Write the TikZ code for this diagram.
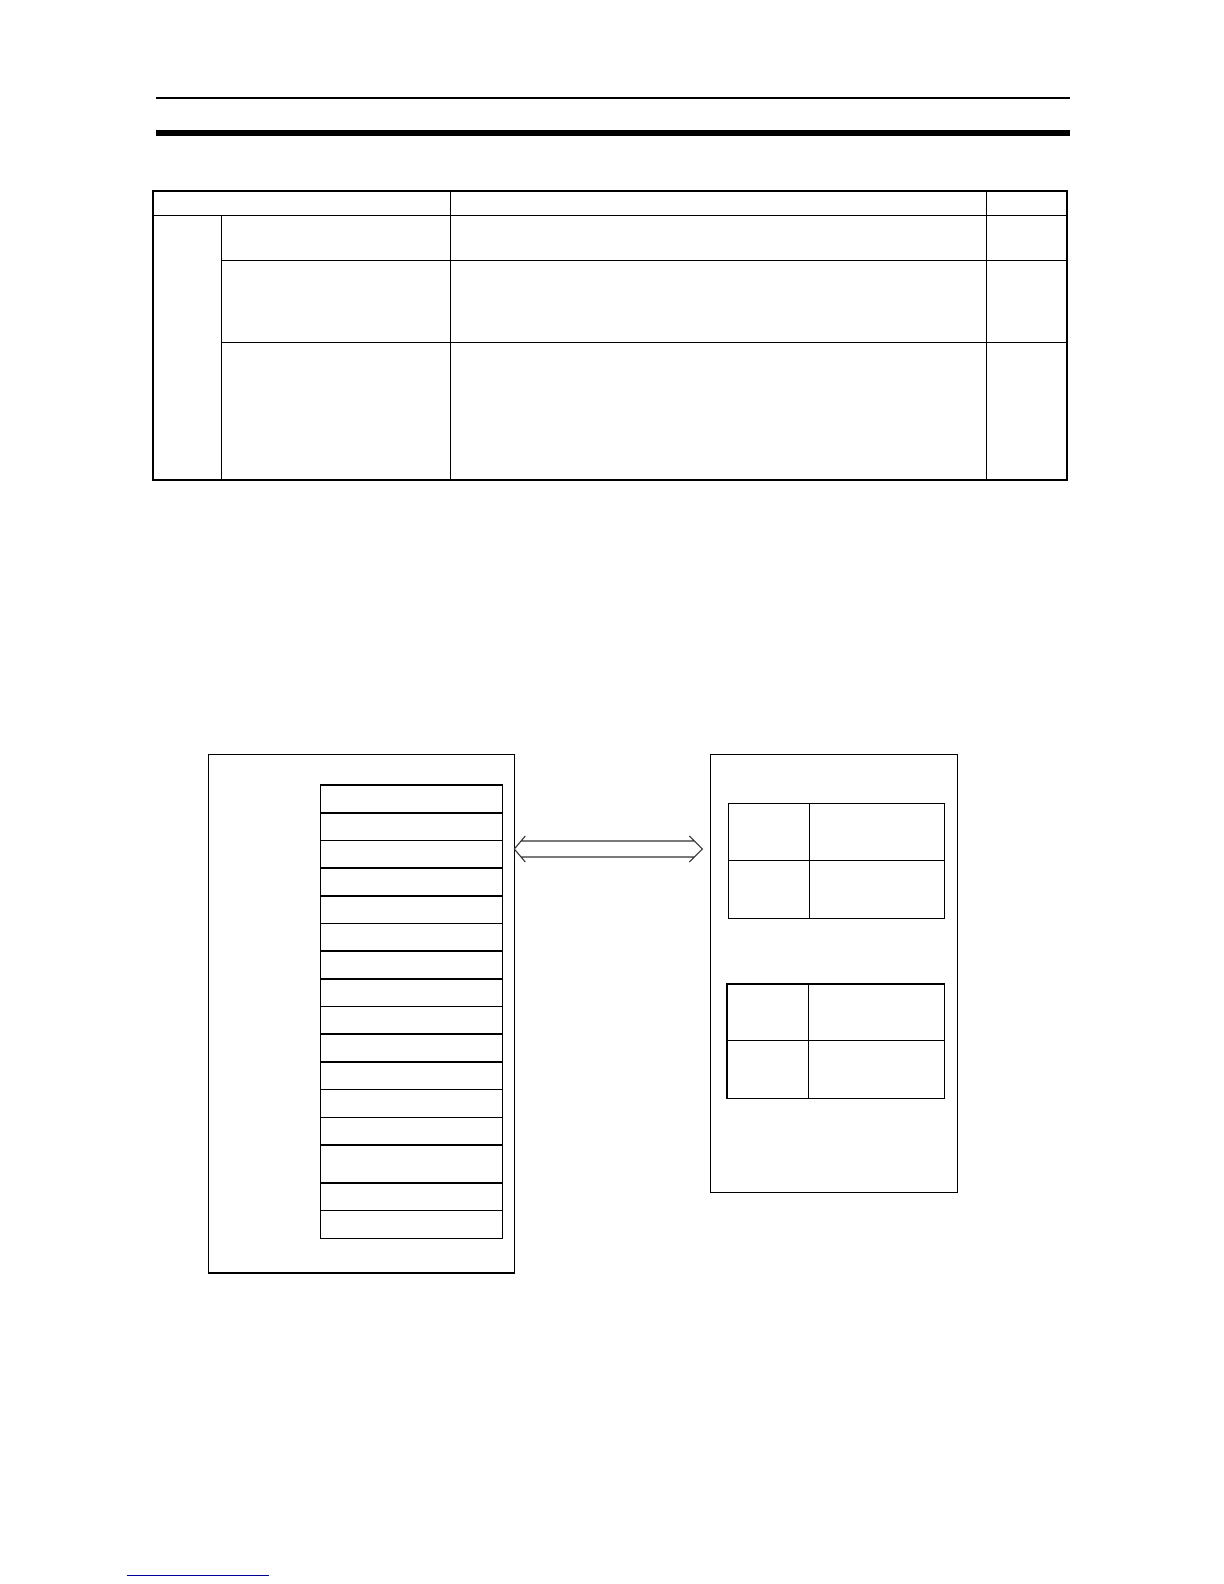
\documentclass[tikz,border=0pt]{standalone}
\usepackage{tikz}
\usetikzlibrary{positioning}

\begin{document}
\begin{tikzpicture}[x=0.5pt,y=-0.5pt,line join=miter,
  panel/.style={draw, line width=0.75pt, inner sep=0pt, outer sep=0pt},
  slot/.style={draw, line width=0.75pt, inner sep=0pt, outer sep=0pt,
    minimum width=91pt, minimum height=13.84pt},
  field/.style={draw, line width=0.7pt, inner sep=0pt, outer sep=0pt}]
\useasboundingbox (0,0) rectangle (1224,1584);

% page rules
\draw[line width=1pt] (156,97.7) -- (1070,97.7);
\draw[line width=2.85pt] (156,133) -- (1070,133);

% table
\draw[line width=0.85pt] (152.7,191) rectangle (1067.3,480);
\draw[line width=0.85pt] (152.7,215.5) -- (1067.3,215.5);
\draw[line width=0.6pt] (221.7,215.5) -- (221.7,480);
\draw[line width=0.6pt] (450.4,191) -- (450.4,480);
\draw[line width=0.7pt] (986.7,191) -- (986.7,480);
\draw[line width=0.6pt] (221.7,260.2) -- (1067.3,260.2);
\draw[line width=0.6pt] (221.7,342.3) -- (1067.3,342.3);

% left panel
\node (leftPanel) [panel, minimum width=153pt, minimum height=259.25pt]
at (361.3,1013.75) {};
\node (slot1) [slot] at (411.3,798.94) {};
\node (slot2) [slot, below=0pt of slot1] {};
\node (slot3) [slot, below=0pt of slot2] {};
\node (slot4) [slot, below=0pt of slot3] {};
\node (slot5) [slot, below=0pt of slot4] {};
\node (slot6) [slot, below=0pt of slot5] {};
\node (slot7) [slot, below=0pt of slot6] {};
\node (slot8) [slot, below=0pt of slot7] {};
\node (slot9) [slot, below=0pt of slot8] {};
\node (slot10) [slot, below=0pt of slot9] {};
\node (slot11) [slot, below=0pt of slot10] {};
\node (slot12) [slot, below=0pt of slot11] {};
\node (slot13) [slot, below=0pt of slot12] {};
\node (slot14) [slot, minimum height=19pt, below=0pt of slot13] {};
\node (slot15) [slot, below=0pt of slot14] {};
\node (slot16) [slot, below=0pt of slot15] {};

% right panel
\node (rightPanel) [panel, minimum width=123.5pt, minimum height=219pt]
at (834.2,973.3) {};
\node (tabA11) [field, minimum width=40.3pt, minimum height=28.3pt]
at (769,832) {};
\node (tabA12) [field, minimum width=67.5pt, minimum height=28.3pt,
right=0pt of tabA11] {};
\node (tabA21) [field, minimum width=40.3pt, minimum height=29pt,
below=0pt of tabA11] {};
\node (tabA22) [field, minimum width=67.5pt, minimum height=29pt,
right=0pt of tabA21] {};
\node (tabB11) [field, minimum width=40.65pt, minimum height=28.35pt]
at (767.65,1012.35) {};
\node (tabB12) [field, minimum width=68pt, minimum height=28.35pt,
right=0pt of tabB11] {};
\node (tabB21) [field, minimum width=40.65pt, minimum height=28.8pt,
below=0pt of tabB11] {};
\node (tabB22) [field, minimum width=68pt, minimum height=28.8pt,
right=0pt of tabB21] {};

% double arrow
\coordinate (tipLeft) at (leftPanel.east |- 0,849);
\coordinate (tipRight) at ([xshift=-4.2pt]rightPanel.west |- 0,849);
\draw[line width=0.55pt, black!80]
  ([shift={(11,-13)}]tipLeft) -- (tipLeft) -- ([shift={(11,13)}]tipLeft)
  ([shift={(-13,-13)}]tipRight) -- (tipRight) -- ([shift={(-13,13)}]tipRight)
  ([shift={(6.6,-8)}]tipLeft) -- ([shift={(-8,-8)}]tipRight)
  ([shift={(6.6,8)}]tipLeft) -- ([shift={(-8,8)}]tipRight);

% link rule
\draw[line width=0.5pt, blue!60!black] (126.7,1575) -- (269,1575);
\end{tikzpicture}
\end{document}
